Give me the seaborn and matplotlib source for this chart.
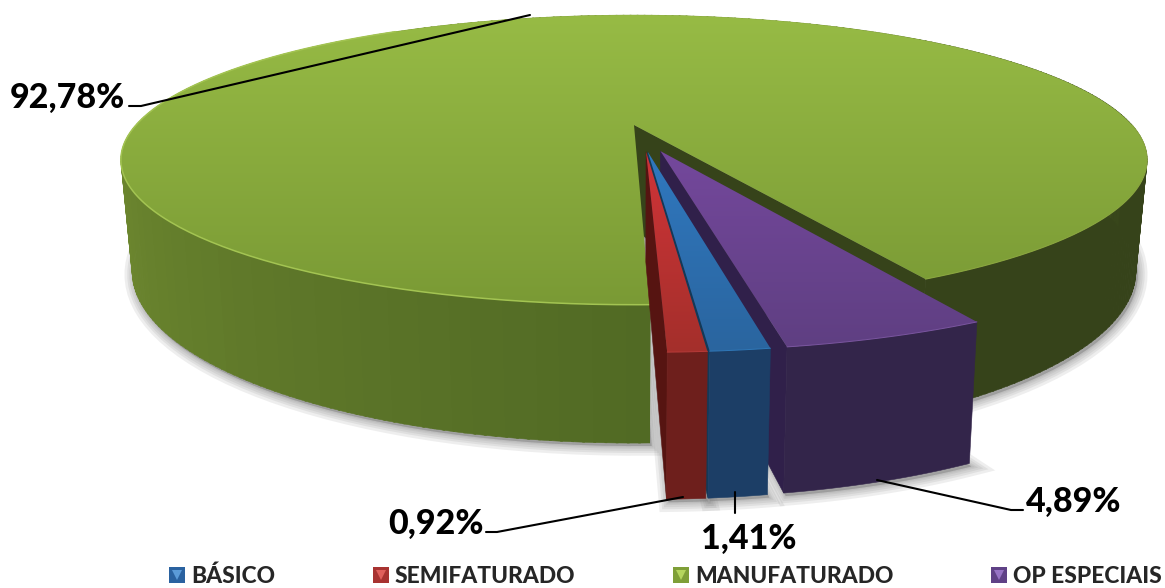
import numpy as np
import matplotlib
matplotlib.use("Agg")
import matplotlib.pyplot as plt
from matplotlib.legend_handler import HandlerTuple
from matplotlib.lines import Line2D
from matplotlib.patches import Polygon
import seaborn as sns

categories = ["BÁSICO", "SEMIFATURADO", "MANUFATURADO", "OP ESPECIAIS"]
values = [1.41, 0.92, 92.78, 4.89]
labels = ["1,41%", "0,92%", "92,78%", "4,89%"]

# order of the slices going round from the front of the pie
pie_order = [1, 0, 3, 2]
start_angle = 1.4
explode = [0.19, 0.19, 0.0, 0.19]
explode_dir = [8, 7, 0, 15.5]

# camera
CX, YH, H, K, A, DEPTH, SHRINK = 634, -441, 566, 0.241, 498, 105, 0.978

top_cols = [["#3078bf", "#2a659f"], ["#d03438", "#a42f2b"], ["#97bb45", "#7a9a35"], ["#74489c", "#5f3f82"]]
wall_cols = ["#1c3e66", "#6e1f1c", "#36431a", "#33254a"]
face_cols = ["#123a58", "#561411", "#36431a", "#30204a"]
rim_cols = ["#2f78b8", "#b83a38", "#a3c452", "#7a55a0"]

sns.set_theme(style="white")
plt.rcParams["font.family"] = ["Lato", "DejaVu Sans"]

fig, ax = plt.subplots(figsize=(11.65, 5.88), dpi=100)
ax.set_position([0, 0, 1, 1])
ax.axis("off")


def project(u, v, low=False):
    s = 1 / (1 + K * np.asarray(v))
    x = CX + A * np.asarray(u) * s
    y = YH + H * s
    if low:
        x = CX + (x - CX) * SHRINK
        y = y + DEPTH * s
    return x, y


def rim(a0, a1, ex, ey, low=False, n=150):
    t = np.radians(np.linspace(a0, a1, n))
    return project(np.sin(t) + ex, -np.cos(t) + ey, low)


def gradient_fill(x, y, cols, z):
    xy = np.column_stack([x, y])
    cmap = sns.blend_palette(cols, as_cmap=True)
    y0, y1 = y.min(), y.max()
    im = ax.imshow(np.linspace(0, 1, 256)[:, None], cmap=cmap, aspect="auto", origin="upper",
                   extent=(x.min(), x.max(), y1, y0), zorder=z)
    im.set_clip_path(Polygon(xy, closed=True, transform=ax.transData))


def green_shade(theta):
    if theta < 90:
        return "#36431a"
    pal = sns.blend_palette(["#36431a", "#7d9a35", "#7d9a35", "#6a842e", "#516a24"], 101)
    return pal[min(100, int(round((theta - 90) / 270 * 100)))]


edges = np.cumsum([0] + [values[i] * 3.6 for i in pie_order]) + start_angle
spans = {i: (edges[k], edges[k + 1]) for k, i in enumerate(pie_order)}
# green runs round the back, so it starts after the other three
spans[2] = (edges[3], edges[3] + values[2] * 3.6)

# soft shadow under every piece
for i in range(4):
    a0, a1 = spans[i]
    d = np.radians(explode_dir[i])
    ex, ey = explode[i] * np.sin(d), -explode[i] * np.cos(d)
    x, y = rim(a0, a1, ex, ey, low=True)
    cx, cy = project(ex, ey, low=True)
    x, y = np.r_[cx, x] + 2, np.r_[cy, y] + 3
    for w in [14, 10, 7, 4, 2]:
        ax.fill(x, y, facecolor="#808080", edgecolor="#808080", alpha=0.13, lw=w, zorder=1)

# green body: outer wall, cut face, top
a0, a1 = spans[2]
steps = np.arange(a0, a1, 1.0)
for t in steps:
    xt, yt = rim(t, min(t + 1.2, a1), 0, 0, n=4)
    xb, yb = rim(t, min(t + 1.2, a1), 0, 0, low=True, n=4)
    c = green_shade(t)
    ax.fill(np.r_[xt, xb[::-1]], np.r_[yt, yb[::-1]], color=c, lw=0.4, zorder=2)

rad = np.radians(a0)
xr, yr = project(np.sin(rad), -np.cos(rad))
xrb, yrb = project(np.sin(rad), -np.cos(rad), low=True)
xc, yc = project(0, 0)
xcb, ycb = project(0, 0, low=True)
ax.fill([xc, xr, xrb, xcb], [yc, yr, yrb, ycb], color=face_cols[2], lw=0.4, zorder=3)

x, y = rim(a0, a1, 0, 0, n=500)
gradient_fill(np.r_[xc, x], np.r_[yc, y], top_cols[2], 4)
hx, hy = rim(215, a1, 0, 0)
ax.plot(hx, hy, color=rim_cols[2], lw=1.1, zorder=5)
hx, hy = rim(a0, 90, 0, 0)
ax.plot(hx, hy, color="#8aa63f", lw=0.8, zorder=5)

# pulled out slices, right one first
z = 6
for i in [3, 0, 1]:
    a0, a1 = spans[i]
    d = np.radians(explode_dir[i])
    ex, ey = explode[i] * np.sin(d), -explode[i] * np.cos(d)
    xc, yc = project(ex, ey)
    xcb, ycb = project(ex, ey, low=True)
    xt, yt = rim(a0, a1, ex, ey, n=40)
    xb, yb = rim(a0, a1, ex, ey, low=True, n=40)
    ax.fill([xc, xt[0], xb[0], xcb], [yc, yt[0], yb[0], ycb], color=face_cols[i], lw=0.4, zorder=z)
    ax.fill(np.r_[xt, xb[::-1]], np.r_[yt, yb[::-1]], color=wall_cols[i], lw=0.4, zorder=z + 1)
    gradient_fill(np.r_[xc, xt], np.r_[yc, yt], top_cols[i], z + 2)
    ax.plot(xt, yt, color=rim_cols[i], lw=0.7, zorder=z + 3)
    z += 4

# leaders and value labels
lead = dict(color="black", lw=1.5, zorder=30, solid_joinstyle="miter")
ax.plot([129, 141, 530], [106, 106, 15], **lead)
ax.plot([877, 1011, 1023], [480, 510, 510], **lead)
ax.plot([683, 497, 486], [497, 532, 532], **lead)
ax.plot([735, 735], [492, 513], **lead)

txt = dict(fontsize=24.5, fontweight="black", color="black", zorder=31)
ax.text(10, 108, labels[2], ha="left", va="baseline", **txt)
ax.text(1026, 512, labels[3], ha="left", va="baseline", **txt)
ax.text(388, 534, labels[1], ha="left", va="baseline", **txt)
ax.text(701, 549, labels[0], ha="left", va="baseline", **txt)

ax.set_xlim(0, 1165)
ax.set_ylim(588, 0)

# legend keys: dark square with a lighter bevel triangle on it
leg_cols = ["#2a62a0", "#a83331", "#7f9f38", "#5f4186"]
leg_light = ["#5b9bd8", "#e0605c", "#b5d55e", "#9673c4"]
handles = []
for c, l in zip(leg_cols, leg_light):
    sq = Line2D([], [], ls="none", marker="s", ms=11.3, mfc=c, mec=c, mew=0)
    tri = Line2D([], [], ls="none", marker="v", ms=7.5, mfc=l, mec=l, mew=0)
    handles.append((sq, tri))
fig.legend(handles, categories, ncol=4, loc="lower left", bbox_to_anchor=(0.1455, 0.001),
           frameon=False, handlelength=0.7, handleheight=0.7, handletextpad=0.25,
           columnspacing=4.3, borderpad=0, borderaxespad=0, numpoints=1,
           handler_map={tuple: HandlerTuple(ndivide=1, pad=0)},
           prop=dict(family=["Lato", "DejaVu Sans"], weight="black", size=16.4))

fig.savefig("out.png", dpi=100, facecolor="white")
